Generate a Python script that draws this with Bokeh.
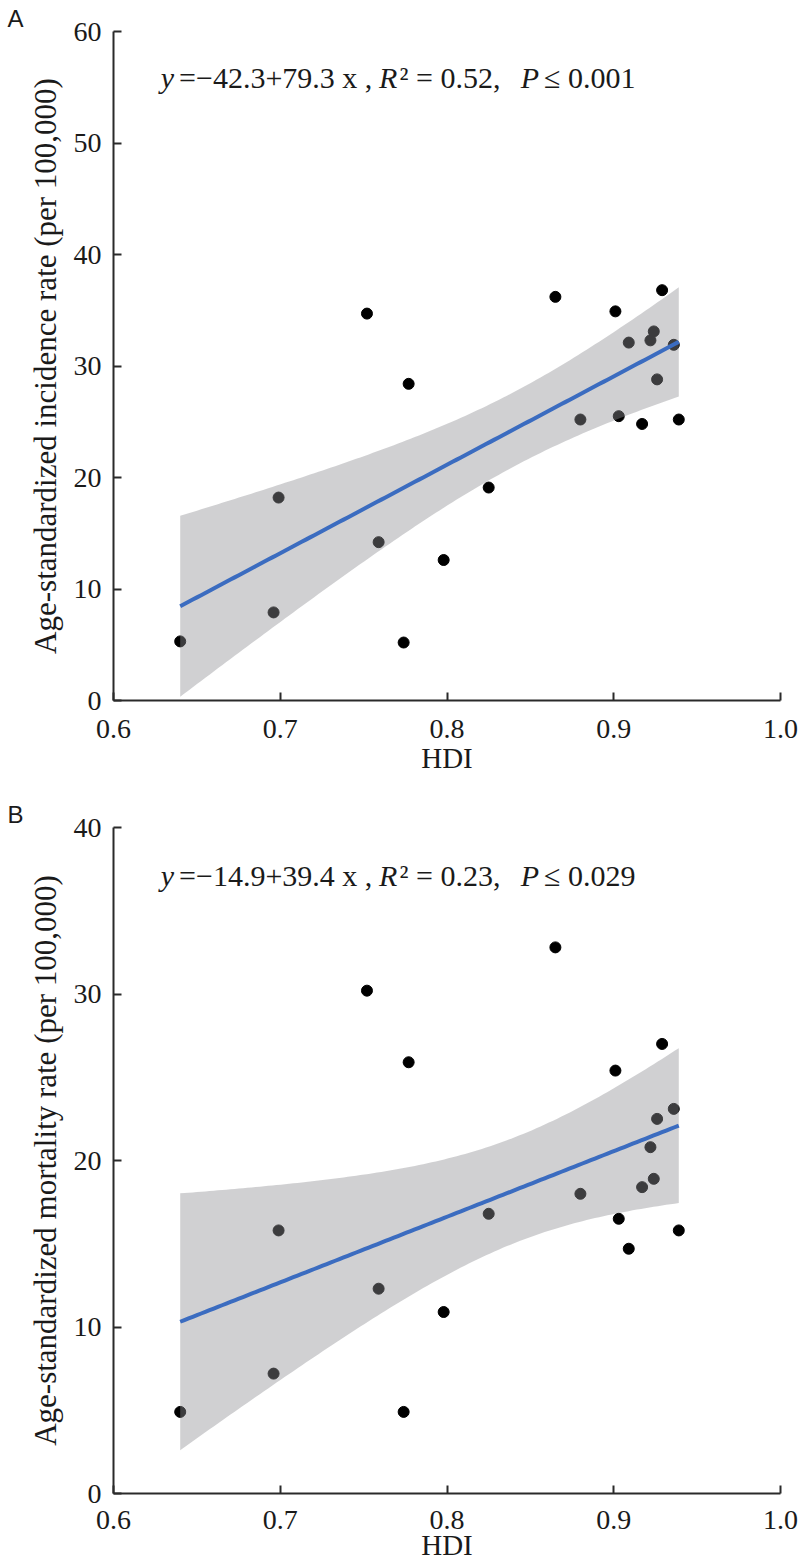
import numpy as np
from bokeh.plotting import figure
from bokeh.models import Range1d, FixedTicker, NumeralTickFormatter, Label, Title
from bokeh.layouts import column
from bokeh.embed import file_html
from bokeh.resources import INLINE

# ---------------- data ----------------
hdi = [0.640, 0.696, 0.699, 0.752, 0.759, 0.774, 0.777, 0.798, 0.825, 0.865,
       0.880, 0.901, 0.903, 0.909, 0.917, 0.922, 0.924, 0.926, 0.929, 0.936, 0.939]
incidence = [5.3, 7.9, 18.2, 34.7, 14.2, 5.2, 28.4, 12.6, 19.1, 36.2,
             25.2, 34.9, 25.5, 32.1, 24.8, 32.3, 33.1, 28.8, 36.8, 31.9, 25.2]
mortality = [4.9, 7.2, 15.8, 30.2, 12.3, 4.9, 25.9, 10.9, 16.8, 32.8,
             18.0, 25.4, 16.5, 14.7, 18.4, 20.8, 18.9, 22.5, 27.0, 23.1, 15.8]

inc_coef = (-42.3, 79.3)
mort_coef = (-14.9, 39.4)
inc_r2, inc_p = "0.52", "0.001"
mort_r2, mort_p = "0.23", "0.029"

x_ticks = [0.6, 0.7, 0.8, 0.9, 1.0]
inc_ticks = [0, 10, 20, 30, 40, 50, 60]
mort_ticks = [0, 10, 20, 30, 40]

T_CRIT = 2.093  # t(0.975, df=19)

SERIF = "Liberation Serif"
SANS = "Liberation Sans"
FRAME_W = 667


def ci_band(x, y, a, b):
    x = np.asarray(x, float)
    y = np.asarray(y, float)
    n = len(x)
    resid = y - (a + b * x)
    s = np.sqrt(np.sum(resid ** 2) / (n - 2))
    xbar = x.mean()
    sxx = np.sum((x - xbar) ** 2)
    xs = np.linspace(x.min(), x.max(), 120)
    fit = a + b * xs
    se = s * np.sqrt(1.0 / n + (xs - xbar) ** 2 / sxx)
    return xs, fit, fit - T_CRIT * se, fit + T_CRIT * se


def panel(letter, ylabel, yvals, coef, r2, pval, yticks, frame_h, top_b, bot_b,
          eq_px, tick_so, label_so):
    ymax = yticks[-1]
    title = Title(text=letter, align="left", offset=-106, standoff=0,
                  text_font=SANS, text_font_style="normal",
                  text_font_size="24px", text_color="#1a1a1a")
    p = figure(frame_width=FRAME_W, frame_height=frame_h,
               x_range=Range1d(0.6, 1.0), y_range=Range1d(0, ymax),
               title=title,
               output_backend="svg", toolbar_location=None,
               min_border_left=113, min_border_right=20,
               min_border_top=top_b, min_border_bottom=bot_b,
               background_fill_color="white", border_fill_color="white")
    p.outline_line_color = None
    p.grid.visible = False

    p.scatter(hdi, yvals, size=11, fill_color="black", line_color="black")
    xs, fit, lo, hi = ci_band(hdi, yvals, coef[0], coef[1])
    p.varea(x=xs, y1=lo, y2=hi, fill_color="#8e8f94", fill_alpha=0.42)
    p.line(xs, fit, line_color="#3b6cc0", line_width=4)

    for ax in (p.xaxis[0], p.yaxis[0]):
        ax.axis_line_width = 2
        ax.axis_line_color = "#2a2a2a"
        ax.major_tick_line_width = 2
        ax.major_tick_line_color = "#2a2a2a"
        ax.major_tick_in = 8
        ax.major_tick_out = 0
        ax.minor_tick_line_color = None
        ax.major_label_text_font = SERIF
        ax.major_label_text_font_size = "28px"
        ax.major_label_text_color = "#1a1a1a"
        ax.axis_label_text_font = SERIF
        ax.axis_label_text_font_style = "normal"
        ax.axis_label_text_color = "#1a1a1a"

    p.xaxis.ticker = FixedTicker(ticks=x_ticks)
    p.xaxis.formatter = NumeralTickFormatter(format="0.0")
    p.xaxis.axis_label = "HDI"
    p.xaxis.axis_label_text_font_size = "29px"
    p.xaxis.major_label_standoff = tick_so
    p.xaxis.axis_label_standoff = label_so

    p.yaxis.ticker = FixedTicker(ticks=yticks)
    p.yaxis.axis_label = ylabel
    p.yaxis.axis_label_text_font_size = "31px"
    p.yaxis.major_label_standoff = 12
    p.yaxis.axis_label_standoff = 8

    # frame px -> data
    def dx(px):
        return 0.6 + px * 0.4 / FRAME_W

    def dy(px_below_top):
        return ymax - px_below_top * ymax / frame_h

    a, b = coef
    sign = "−" if a < 0 else "+"
    pieces = [("y", 47.3, True),
              (f"={sign}{abs(a):.1f}+{b:.1f} x ,", 65.6, False),
              ("R", 265.6, True),
              (f"² = {r2},", 286.0, False),
              ("P", 407.3, True),
              (f"≤ {pval}", 430.6, False)]
    base_y = dy(eq_px)
    for txt, px, ital in pieces:
        p.add_layout(Label(x=dx(px), y=base_y, text=txt, text_font=SERIF,
                           text_font_size="30px",
                           text_font_style="italic" if ital else "normal",
                           text_color="#1a1a1a", text_align="left",
                           text_baseline="alphabetic"))
    return p


p1 = panel("A", "Age-standardized incidence rate (per 100,000)", incidence,
           inc_coef, inc_r2, inc_p, inc_ticks, 669, 31, 80, 46, 19, 1)
p2 = panel("B", "Age-standardized mortality rate (per 100,000)", mortality,
           mort_coef, mort_r2, mort_p, mort_ticks, 666, 47, 74, 48, 17, -3)

layout = column(p1, p2, spacing=0)
open("out.html", "w").write(file_html(layout, INLINE))
